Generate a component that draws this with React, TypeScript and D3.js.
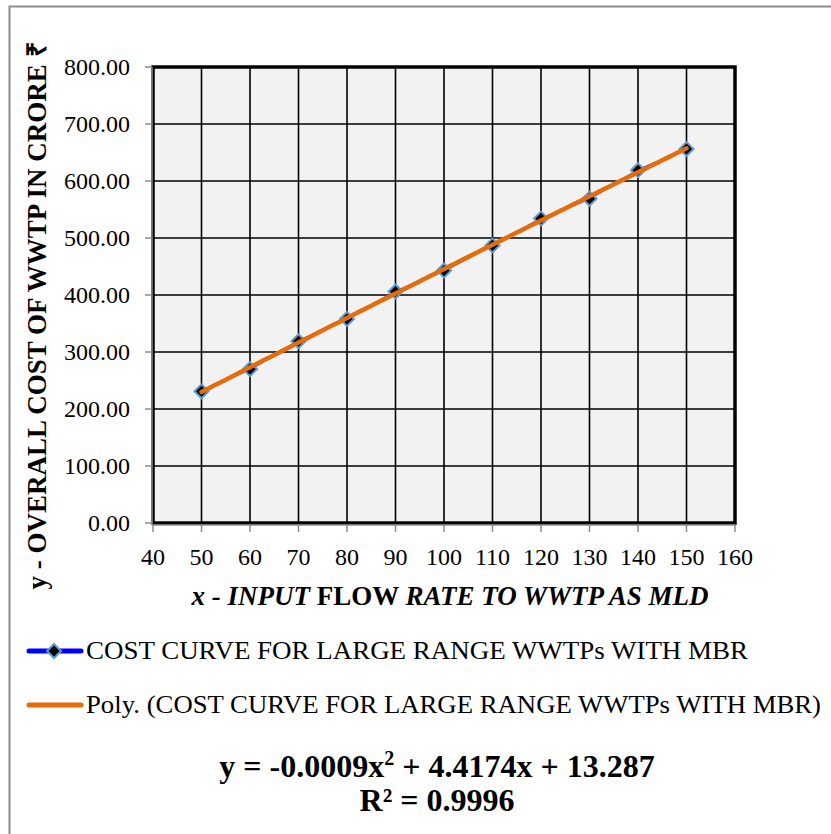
import * as d3 from 'd3';

// flow rate (MLD) and overall cost (crore)
const flowRates = [50, 60, 70, 80, 90, 100, 110, 120, 130, 140, 150];
const costs = [231, 270, 319, 358, 406, 443, 487, 534, 569, 619, 656];
const xTicks = [40, 50, 60, 70, 80, 90, 100, 110, 120, 130, 140, 150, 160];
const yTicks = [0, 100, 200, 300, 400, 500, 600, 700, 800];
const seriesName = 'COST CURVE FOR LARGE RANGE WWTPs WITH MBR';

// least squares quadratic, like the spreadsheet's poly trendline
function quadFit(xs: number[], ys: number[]) {
  const s = (k: number) => d3.sum(xs, (x) => Math.pow(x, k));
  const t = (k: number) => d3.sum(xs, (x, i) => Math.pow(x, k) * ys[i]);
  const m = [
    [s(4), s(3), s(2), t(2)],
    [s(3), s(2), s(1), t(1)],
    [s(2), s(1), xs.length, t(0)],
  ];
  for (let i = 0; i < 3; i++) {
    for (let j = i + 1; j < 3; j++) {
      const f = m[j][i] / m[i][i];
      for (let k = i; k < 4; k++) m[j][k] -= f * m[i][k];
    }
  }
  const c = [0, 0, 0];
  for (let i = 2; i >= 0; i--) {
    let v = m[i][3];
    for (let k = i + 1; k < 3; k++) v -= m[i][k] * c[k];
    c[i] = v / m[i][i];
  }
  return (x: number) => c[0] * x * x + c[1] * x + c[2];
}

export default function App() {
  const left = 153;
  const right = 735;
  const top = 67;
  const bottom = 523;

  const x = d3.scaleLinear().domain([40, 160]).range([left, right]);
  const y = d3.scaleLinear().domain([0, 800]).range([bottom, top]);

  const fit = quadFit(flowRates, costs);
  const trendX = d3.range(flowRates[0], flowRates[flowRates.length - 1] + 0.5, 1);

  const dataLine = d3
    .line<number>()
    .x((d, i) => x(flowRates[i]))
    .y((d) => y(d))(costs);

  const trendLine = d3
    .line<number>()
    .x((d) => x(d))
    .y((d) => y(fit(d)))(trendX);

  const font = '"Liberation Serif", "Times New Roman", serif';
  const diamond = (cx: number, cy: number, r: number) =>
    `M${cx},${cy - r}L${cx + r},${cy}L${cx},${cy + r}L${cx - r},${cy}Z`;

  return (
    <svg width={831} height={834} style={{ position: 'absolute', left: 0, top: 0 }} fontFamily={font}>
      <rect x={0} y={0} width={831} height={834} fill='#ffffff' />
      <path d='M9.5,834V6.5H831' fill='none' stroke='#8c8c8c' strokeWidth={2} />

      {/* plot area */}
      <rect x={left} y={top} width={right - left} height={bottom - top} fill='#f2f2f2' />
      <g stroke='#000' strokeWidth={1.6}>
        {xTicks.map((t) => (
          <line key={'gx' + t} x1={x(t)} x2={x(t)} y1={top} y2={bottom} />
        ))}
        {yTicks.map((t) => (
          <line key={'gy' + t} x1={left} x2={right} y1={y(t)} y2={y(t)} />
        ))}
      </g>
      <rect x={left} y={top} width={right - left} height={bottom - top} fill='none' stroke='#000' strokeWidth={3.5} />

      {/* axes */}
      <g stroke='#8c8c8c' strokeWidth={1.5}>
        <line x1={left - 1} x2={left - 1} y1={top} y2={bottom + 2} />
        <line x1={left - 1} x2={right} y1={bottom + 2} y2={bottom + 2} />
        {yTicks.map((t) => (
          <line key={'ty' + t} x1={left - 8} x2={left - 1} y1={y(t)} y2={y(t)} />
        ))}
        {xTicks.map((t) => (
          <line key={'tx' + t} x1={x(t)} x2={x(t)} y1={bottom + 2} y2={bottom + 9} />
        ))}
      </g>
      <g fontSize={24} fill='#000'>
        {yTicks.map((t) => (
          <text key={'ly' + t} x={left - 23} y={y(t)} textAnchor='end' dominantBaseline='central'>
            {t.toFixed(2)}
          </text>
        ))}
        {xTicks.map((t) => (
          <text key={'lx' + t} x={x(t)} y={565} textAnchor='middle'>
            {t}
          </text>
        ))}
      </g>

      {/* series */}
      <path d={dataLine ?? ''} fill='none' stroke='#0000ff' strokeWidth={2} />
      {costs.map((c, i) => (
        <path key={'m' + i} d={diamond(x(flowRates[i]), y(c), 7)} fill='#000' stroke='#5b9bd5' strokeWidth={2} />
      ))}
      <path d={trendLine ?? ''} fill='none' stroke='#e46c0a' strokeWidth={4.5} strokeLinecap='round' />

      {/* axis titles */}
      <text
        transform={`translate(46, 316) rotate(-90)`}
        textAnchor='middle'
        fontWeight='bold'
        fontSize={27}
      >
        y - OVERALL COST OF WWTP IN CRORE ₹
      </text>
      <text x={450} y={605} textAnchor='middle' fontWeight='bold' fontSize={27}>
        <tspan fontStyle='italic'>x - INPUT</tspan>
        <tspan> FLOW </tspan>
        <tspan fontStyle='italic'>RATE TO WWTP AS MLD</tspan>
      </text>

      {/* legend */}
      <line x1={29} x2={81} y1={651} y2={651} stroke='#0000ff' strokeWidth={5} strokeLinecap='round' />
      <path d={diamond(54, 651, 7)} fill='#000' stroke='#5b9bd5' strokeWidth={2} />
      <text x={86} y={659} fontSize={25} textLength={662} lengthAdjust='spacingAndGlyphs'>
        {seriesName}
      </text>
      <line x1={29} x2={81} y1={705} y2={705} stroke='#e46c0a' strokeWidth={5} strokeLinecap='round' />
      <text x={86} y={713} fontSize={25} textLength={735} lengthAdjust='spacingAndGlyphs'>
        Poly. ({seriesName})
      </text>

      {/* trendline equation */}
      <text x={437} y={777} textAnchor='middle' fontWeight='bold' fontSize={32}>
        y = -0.0009x<tspan fontSize={20} dy={-12}>2</tspan>
        <tspan dy={12}> + 4.4174x + 13.287</tspan>
      </text>
      <text x={437} y={811} textAnchor='middle' fontWeight='bold' fontSize={32}>
        R² = 0.9996
      </text>
    </svg>
  );
}
